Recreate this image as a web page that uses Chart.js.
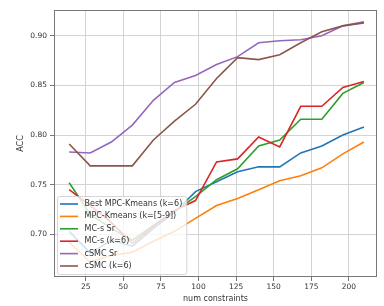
<!DOCTYPE html>
<html>
<head>
<meta charset="utf-8">
<script src="https://cdn.jsdelivr.net/npm/chart.js@4"></script>
<style>
  html, body { margin: 0; padding: 0; background: #fff; }
  canvas { display: block; }
</style>
</head>
<body>
<canvas id="accChart" width="384" height="306"></canvas>
<script>
// values
const constraints = [14, 28, 42, 56, 70, 84, 98, 112, 126, 140, 154, 168, 182, 196, 210];
const bestMpcK6 = [0.703, 0.681, 0.694, 0.688, 0.706, 0.722, 0.743, 0.753, 0.763, 0.768, 0.768, 0.782, 0.789, 0.800, 0.808];
const mpcRange = [0.692, 0.672, 0.679, 0.682, 0.693, 0.703, 0.716, 0.729, 0.736, 0.745, 0.754, 0.759, 0.767, 0.781, 0.793];
const mcsSr = [0.752, 0.720, 0.706, 0.694, 0.709, 0.723, 0.738, 0.755, 0.766, 0.789, 0.795, 0.816, 0.816, 0.842, 0.853];
const mcsK6 = [0.745, 0.729, 0.712, 0.691, 0.708, 0.724, 0.734, 0.773, 0.776, 0.798, 0.788, 0.829, 0.829, 0.848, 0.854];
const csmcSr = [0.783, 0.782, 0.793, 0.810, 0.835, 0.853, 0.860, 0.871, 0.879, 0.893, 0.895, 0.896, 0.900, 0.910, 0.914];
const csmcK6 = [0.791, 0.769, 0.769, 0.769, 0.795, 0.814, 0.831, 0.857, 0.878, 0.876, 0.881, 0.893, 0.904, 0.910, 0.913];

const seriesLabels = ['Best MPC-Kmeans (k=6)', 'MPC-Kmeans (k=[5-9])', 'MC-s Sr', 'MC-s (k=6)', 'cSMC Sr', 'cSMC (k=6)'];
const seriesValues = [bestMpcK6, mpcRange, mcsSr, mcsK6, csmcSr, csmcK6];
const seriesColors = ['#1f77b4', '#ff7f0e', '#2ca02c', '#d62728', '#9467bd', '#8c564b'];

const xTicks = [25, 50, 75, 100, 125, 150, 175, 200];
const yTicks = [0.70, 0.75, 0.80, 0.85, 0.90];

Chart.defaults.font.family = '"DejaVu Sans", sans-serif';
Chart.defaults.color = '#333';

// box around the plot (all four spines)
const frame = {
    id: 'frame',
    afterDraw(chart) {
        const {ctx, chartArea: a} = chart;
        ctx.save();
        ctx.strokeStyle = '#777';
        ctx.lineWidth = 1;
        ctx.strokeRect(a.left + 0.5, a.top + 0.5, a.right - a.left - 1, a.bottom - a.top - 1);
        ctx.restore();
    }
};

// matplotlib style legend in the lower left corner
const insideLegend = {
    id: 'insideLegend',
    afterDatasetsDraw(chart) {
        const {ctx, chartArea: a} = chart;
        const rowH = 12.4;
        ctx.save();
        ctx.font = '8px "DejaVu Sans"';
        let maxW = 0;
        seriesLabels.forEach(t => { maxW = Math.max(maxW, ctx.measureText(t).width); });
        const left = a.left + 3;
        const bottom = a.bottom - 3;
        const top = bottom - rowH * (seriesLabels.length - 1) - 16;
        const width = 27.5 + maxW + 4;
        ctx.beginPath();
        ctx.roundRect(left + 0.5, top + 0.5, width, bottom - top, 2);
        ctx.fillStyle = 'rgba(255,255,255,0.8)';
        ctx.fill();
        ctx.strokeStyle = 'rgba(204,204,204,0.8)';
        ctx.lineWidth = 1;
        ctx.stroke();
        ctx.textBaseline = 'middle';
        ctx.fillStyle = '#333';
        seriesLabels.forEach((t, i) => {
            const y = top + 8 + i * rowH;
            ctx.beginPath();
            ctx.moveTo(left + 3, y);
            ctx.lineTo(left + 21, y);
            ctx.strokeStyle = seriesColors[i];
            ctx.lineWidth = 1.6;
            ctx.stroke();
            ctx.fillText(t, left + 27.5, y);
        });
        ctx.restore();
    }
};

const datasets = seriesLabels.map((label, i) => ({
    label: label,
    data: constraints.map((c, j) => ({x: c, y: seriesValues[i][j]})),
    borderColor: seriesColors[i],
    backgroundColor: seriesColors[i],
    borderWidth: 1.6,
    pointRadius: 0,
    tension: 0,
    fill: false,
    order: seriesLabels.length - i
}));

new Chart(document.getElementById('accChart'), {
    type: 'line',
    data: {datasets: datasets},
    plugins: [frame, insideLegend],
    options: {
        responsive: false,
        animation: false,
        layout: {padding: {top: 10, right: 7, left: 0, bottom: 0}},
        plugins: {legend: {display: false}, tooltip: {enabled: false}},
        scales: {
            x: {
                type: 'linear',
                min: 3.9,
                max: 218.7,
                afterBuildTicks: s => { s.ticks = xTicks.map(v => ({value: v})); },
                afterFit: s => { s.height = 29; },
                border: {display: false},
                grid: {color: '#d3d3d3', tickColor: '#777', tickLength: 4, lineWidth: 1},
                ticks: {font: {size: 7.5}, padding: 2, maxRotation: 0, callback: v => String(v)},
                title: {display: true, text: 'num constraints', font: {size: 8}, padding: {top: 0, bottom: 2}}
            },
            y: {
                min: 0.657,
                max: 0.926,
                afterBuildTicks: s => { s.ticks = yTicks.map(v => ({value: v})); },
                afterFit: s => { s.width = 54; },
                border: {display: false},
                grid: {color: '#d3d3d3', tickColor: '#777', tickLength: 4, lineWidth: 1},
                ticks: {font: {size: 7.5}, padding: 3, callback: v => v.toFixed(2)},
                title: {display: true, text: 'ACC', font: {size: 8}, padding: {top: 16, bottom: 0}}
            }
        }
    }
});
</script>
</body>
</html>
